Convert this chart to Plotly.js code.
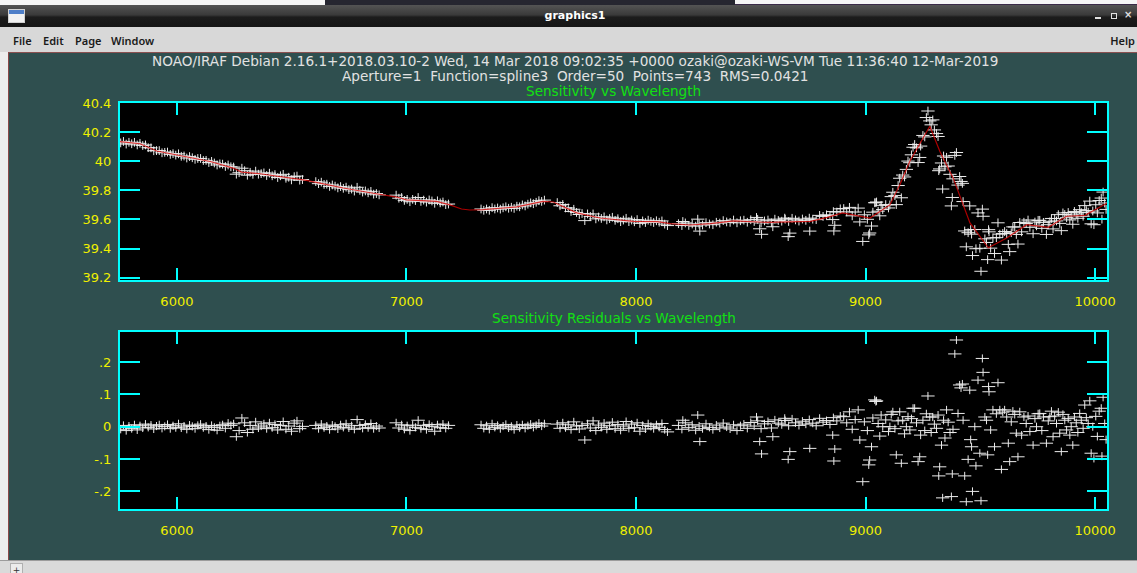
<!DOCTYPE html>
<html>
<head>
<meta charset="utf-8">
<script src="https://cdn.plot.ly/plotly-3.0.1.min.js"></script>
<style>
  html,body{margin:0;padding:0;}
  body{width:1137px;height:573px;overflow:hidden;background:#d9d9d9;position:relative;font-family:'DejaVu Sans',sans-serif;}
  .abs{position:absolute;}
  .menu{position:absolute;top:33px;font-family:'Noto Sans','DejaVu Sans',sans-serif;font-weight:600;font-size:11px;color:#1a1a1a;}
</style>
</head>
<body>
<div class="abs" style="left:0;top:0;width:1137px;height:5px;background:#f6f6f6"></div>
<div class="abs" style="left:325px;top:0;width:410px;height:5px;background:#262630"></div>
<div class="abs" style="left:735px;top:4px;width:402px;height:1px;background:#3a2a48"></div>
<div class="abs" style="left:0;top:5px;width:1137px;height:22px;background:linear-gradient(#545454,#3a3a3a 45%,#1c1c1c 55%,#161616)"></div>
<div class="abs" style="left:8px;top:9px;width:15px;height:12px;border:1px solid #d0d0d0;background:linear-gradient(#4f7fc8 0,#4f7fc8 35%,#f2f2f2 35%)"></div>
<div class="abs" style="left:475px;top:9px;width:200px;text-align:center;color:#ffffff;font-weight:bold;font-size:11px;">graphics1</div>
<div class="abs" style="left:1095px;top:17px;width:6px;height:2px;background:#e0e0e0"></div>
<div class="abs" style="left:1111px;top:13px;width:4px;height:4px;border:1px solid #e0e0e0"></div>
<div class="abs" style="left:1124px;top:9px;color:#e0e0e0;font-size:10px;font-weight:bold">&#215;</div>
<div class="abs" style="left:0;top:27px;width:1137px;height:25px;background:#d8d8d8"></div>
<div class="menu" style="left:13px">File</div>
<div class="menu" style="left:43px">Edit</div>
<div class="menu" style="left:75px">Page</div>
<div class="menu" style="left:111px">Window</div>
<div class="menu" style="right:2px">Help</div>
<div class="abs" style="left:0;top:52px;width:8px;height:509px;background:#ededed"></div>
<div id="plot" class="abs" style="left:8px;top:53px;width:1129px;height:507px;background:#2f4f4f"></div>
<div class="abs" style="left:8px;top:52px;width:1129px;height:1px;background:#8a5050"></div>
<div class="abs" style="left:8px;top:52px;width:1px;height:508px;background:#8a4848"></div>
<div class="abs" style="left:0;top:560px;width:1137px;height:1px;background:#9c9c9c"></div>
<div class="abs" style="left:0;top:561px;width:1137px;height:12px;background:#dadada"></div>
<div class="abs" style="left:10px;top:563px;width:11px;height:10px;border:1px solid #b0b0b0;border-bottom:none;background:#ececec;font-size:9px;line-height:12px;text-align:center;color:#333">+</div>
<script>
// ---- tick labels ----
const xTicks = [6000, 7000, 8000, 9000, 10000];
const xTickText = ['6000', '7000', '8000', '9000', '10000'];
const sensTicks = [39.2, 39.4, 39.6, 39.8, 40.0, 40.2, 40.4];
const sensTickText = ['39.2', '39.4', '39.6', '39.8', '40', '40.2', '40.4'];
const residTicks = [-0.2, -0.1, 0, 0.1, 0.2];
const residTickText = ['-.2', '-.1', '0', '.1', '.2'];

// ---- header texts ----
const header1 = 'NOAO/IRAF Debian 2.16.1+2018.03.10-2 Wed, 14 Mar 2018 09:02:35 +0000 ozaki@ozaki-WS-VM Tue 11:36:40 12-Mar-2019';
const header2 = 'Aperture=1\u00a0\u00a0Function=spline3\u00a0\u00a0Order=50\u00a0\u00a0Points=743\u00a0\u00a0RMS=0.0421';
const title1 = 'Sensitivity vs Wavelength';
const title2 = 'Sensitivity Residuals vs Wavelength';

// ---- fitted sensitivity curve (as drawn) ----
const fitWave = [5752,5839,5912,6000,6145,6245,6282,6362,6508,6558,6623,6725,6855,6958,7000,7131,7189,7240,7276,7333,7480,7595,7640,7682,7742,7843,7988,8091,8150,8234,8325,8426,8572,8760,8833,8900,8960,9019,9106,9150,9193,9280,9324,9382,9455,9535,9615,9702,9796,9876,9956,10053];
const fitSens = [40.135,40.12,40.07,40.044,39.998,39.953,39.925,39.914,39.884,39.87,39.85,39.816,39.78,39.754,39.735,39.724,39.70,39.672,39.665,39.667,39.686,39.724,39.72,39.69,39.645,39.61,39.587,39.585,39.571,39.562,39.571,39.59,39.58,39.587,39.614,39.645,39.628,39.61,39.70,39.84,40.0,40.24,40.067,39.884,39.576,39.405,39.473,39.564,39.546,39.622,39.628,39.713];

// ---- data points, segment A ----
const waveA = [5755,5767,5779,5791,5803,5815,5827,5839,5851,5863,5875,5887,5899,5911,5923,5935,5947,5959,5971,5983,5995,6007,6019,6031,6043,6055,6067,6079,6091,6103,6115,6127,6139,6151,6163,6175,6187,6199,6211,6223,6235,6247,6259,6271,6283,6295,6307,6319,6331,6343,6355,6367,6379,6391,6403,6415,6427,6439,6451,6463,6475,6487,6499,6511,6523,6535,6547];
const sensA = [40.126,40.136,40.118,40.130,40.120,40.130,40.112,40.123,40.108,40.112,40.093,40.092,40.072,40.073,40.073,40.058,40.061,40.063,40.047,40.052,40.042,40.051,40.034,40.036,40.022,40.032,40.024,40.013,40.019,40.019,40.005,40.006,39.991,39.999,39.988,39.974,39.982,39.980,39.964,39.974,39.962,39.960,39.911,39.921,39.952,39.935,39.904,39.924,39.910,39.932,39.911,39.915,39.920,39.902,39.918,39.900,39.908,39.888,39.900,39.910,39.883,39.890,39.872,39.894,39.898,39.870,39.874];
const residA = [-0.008,0.004,-0.012,0.002,-0.006,0.006,-0.010,0.003,-0.004,0.008,-0.002,0.005,-0.007,0.002,0.006,-0.005,0.001,0.007,-0.006,0.003,-0.003,0.009,-0.004,0.002,-0.008,0.005,0.001,-0.006,0.004,0.008,-0.003,0.002,-0.009,0.004,-0.002,-0.011,0.003,0.006,-0.005,0.011,0.004,0.009,-0.031,-0.012,0.027,0.012,-0.018,0.004,-0.008,0.015,-0.004,0.002,0.009,-0.006,0.012,-0.003,0.007,-0.010,0.004,0.016,-0.008,0.002,-0.014,0.011,0.018,-0.006,0.001];

// ---- segment B ----
const waveB = [6605,6617,6629,6641,6653,6665,6677,6689,6701,6713,6725,6737,6749,6761,6773,6785,6797,6809,6821,6833,6845,6857,6869,6881];
const sensB = [39.860,39.846,39.856,39.841,39.842,39.827,39.837,39.829,39.817,39.826,39.814,39.822,39.805,39.809,39.795,39.821,39.800,39.788,39.796,39.783,39.793,39.774,39.778,39.769];
const residB = [0.004,-0.006,0.008,-0.003,0.002,-0.009,0.005,0.001,-0.007,0.006,-0.002,0.009,-0.004,0.003,-0.008,0.022,0.004,-0.005,0.007,-0.003,0.010,-0.006,0.002,-0.004];

// ---- segment C ----
const waveC = [6955,6967,6979,6991,7003,7015,7027,7039,7051,7063,7075,7087,7099,7111,7123,7135,7147,7159,7171,7183];
const sensC = [39.767,39.746,39.751,39.731,39.738,39.722,39.738,39.730,39.751,39.724,39.733,39.719,39.734,39.727,39.711,39.728,39.714,39.720,39.702,39.706];
const residC = [0.012,-0.004,0.006,-0.008,0.003,-0.012,0.005,-0.002,0.020,-0.006,0.004,-0.009,0.007,0.001,-0.014,0.006,-0.003,0.008,-0.005,0.004];

// ---- segment D ----
const waveD = [7325,7337,7349,7361,7373,7385,7397,7409,7421,7433,7445,7457,7469,7481,7493,7505,7517,7529,7541,7553,7565,7577,7589,7601];
const sensD = [39.672,39.663,39.672,39.663,39.681,39.672,39.679,39.671,39.680,39.687,39.677,39.684,39.676,39.691,39.687,39.700,39.693,39.705,39.714,39.708,39.718,39.729,39.724,39.733];
const residD = [0.006,-0.005,0.003,-0.008,0.009,-0.002,0.004,-0.006,0.002,0.007,-0.004,0.001,-0.009,0.005,-0.003,0.006,-0.005,0.003,0.008,-0.002,0.004,0.011,0.002,0.009];

// ---- segment E ----
const waveE = [7657,7669,7681,7693,7705,7717,7729,7741,7753,7765,7777,7789,7801,7813,7825,7837,7849,7861,7873,7885,7897,7909,7921,7933,7945,7957,7969,7981,7993,8005,8017,8029,8041,8053,8065,8077,8089,8101,8113,8125,8137];
const sensE = [39.716,39.694,39.703,39.679,39.679,39.655,39.670,39.648,39.634,39.641,39.592,39.638,39.621,39.638,39.604,39.617,39.607,39.618,39.597,39.606,39.615,39.594,39.605,39.585,39.596,39.608,39.585,39.596,39.584,39.599,39.573,39.590,39.579,39.595,39.587,39.579,39.591,39.581,39.590,39.568,39.558];
const residE = [0.008,-0.005,0.012,-0.003,0.006,-0.009,0.015,0.002,-0.007,0.004,-0.041,0.009,-0.004,0.018,-0.012,0.005,-0.002,0.011,-0.008,0.003,0.014,-0.006,0.007,-0.011,0.002,0.016,-0.005,0.008,-0.003,0.012,-0.014,0.004,-0.007,0.009,0.001,-0.006,0.006,-0.002,0.010,-0.009,-0.016];

// ---- segment F1 (band + outliers) ----
const waveF1 = [8185,8200,8215,8230,8245,8260,8275,8290,8305,8320,8335,8350,8365,8380,8395,8410,8425,8440,8455,8470,8485,8500,8515,8530,8545,8560,8575,8590,8605,8620,8635,8650,8665,8680,8695,8710,8725,8740,8755,8770,8785,8800,8815,8830,8845,8860,8875,8890];
const sensF1 = [39.571,39.558,39.576,39.559,39.569,39.554,39.568,39.562,39.578,39.569,39.564,39.581,39.575,39.592,39.583,39.580,39.596,39.577,39.591,39.595,39.581,39.598,39.586,39.601,39.576,39.590,39.596,39.577,39.602,39.593,39.588,39.602,39.586,39.608,39.597,39.589,39.603,39.594,39.609,39.602,39.599,39.628,39.621,39.632,39.627,39.654,39.651,39.673];
const residF1 = [0.004,-0.008,0.012,-0.003,0.006,-0.011,0.002,-0.006,0.009,-0.002,-0.009,0.005,-0.004,0.011,-0.001,-0.007,0.006,-0.012,0.003,0.008,-0.005,0.013,0.002,0.018,-0.006,0.009,0.016,-0.004,0.021,0.011,0.006,0.019,0.003,0.024,0.012,0.004,0.017,0.008,0.022,0.011,0.003,0.026,0.014,0.019,0.007,0.028,0.018,0.033];
const waveF1out = [8204,8269,8278,8525,8539,8547,8596,8648,8663,8670,8757,8857,8862,8866];
const sensF1out = [39.586,39.602,39.520,39.614,39.536,39.498,39.550,39.609,39.482,39.506,39.520,39.599,39.521,39.560];
const residF1out = [0.020,0.036,-0.046,0.030,-0.046,-0.084,-0.031,0.026,-0.101,-0.077,-0.067,-0.026,-0.106,-0.069];

// ---- segment F2 (noisy red end) ----
const waveF2 = [8905,8918,8930,8942,8955,8968,8975,8988,8995,9008,9014,9018,9026,9032,9040,9045,9048,9055,9062,9068,9075,9088,9100,9106,9112,9119,9128,9134,9142,9149,9156,9162,9170,9178,9185,9193,9200,9207,9214,9222,9229,9236,9240,9250,9258,9265,9272,9280,9286,9293,9300,9309,9316,9319,9323,9331,9336,9340,9346,9353,9360,9368,9374,9378,9381,9389,9396,9403,9410,9416,9422,9425,9432,9439,9447,9454,9458,9462,9466,9476,9481,9490,9498,9503,9509,9512,9520,9527,9532,9536,9538,9545,9555,9562,9570,9577,9585,9592,9598,9606,9615,9622,9628,9635,9642,9650,9657,9664,9672,9680,9690,9700,9708,9716,9730,9738,9745,9752,9759,9768,9775,9788,9796,9803,9810,9817,9824,9832,9840,9846,9853,9860,9868,9876,9883,9890,9896,9903,9910,9918,9925,9933,9940,9948,9955,9962,9970,9977,9983,9990,9995,10003,10010,10018,10027,10030,10035,10042,10048];
const sensF2 = [39.675,39.652,39.683,39.625,39.651,39.678,39.583,39.449,39.632,39.601,39.494,39.507,39.555,39.650,39.715,39.715,39.720,39.657,39.625,39.697,39.668,39.702,39.679,39.700,39.757,39.787,39.764,39.702,39.833,39.883,39.749,39.905,39.892,39.944,40.001,39.990,40.044,40.096,40.115,40.092,39.991,40.026,40.104,40.177,40.167,40.300,40.345,40.277,40.250,40.284,40.215,40.190,40.170,39.935,39.947,39.988,39.809,40.036,39.962,40.027,39.967,39.910,39.693,39.751,39.879,40.040,40.060,39.836,39.895,39.861,39.848,39.723,39.521,39.412,39.509,39.693,39.530,39.499,39.352,39.531,39.399,39.645,39.402,39.244,39.671,39.622,39.467,39.442,39.324,39.530,39.515,39.403,39.474,39.366,39.475,39.577,39.499,39.321,39.504,39.517,39.503,39.429,39.379,39.509,39.549,39.548,39.497,39.431,39.579,39.515,39.581,39.572,39.596,39.546,39.502,39.582,39.556,39.594,39.594,39.539,39.580,39.497,39.564,39.584,39.607,39.535,39.606,39.590,39.633,39.573,39.523,39.645,39.634,39.612,39.648,39.597,39.624,39.567,39.655,39.637,39.608,39.667,39.647,39.622,39.695,39.661,39.650,39.726,39.570,39.658,39.564,39.701,39.645,39.730,39.747,39.602,39.788,39.713,39.669];
const residF2 = [0.031,0.012,0.046,-0.008,0.022,0.052,-0.041,-0.170,0.015,-0.012,-0.118,-0.103,-0.062,0.027,0.083,0.078,0.080,0.010,-0.029,0.036,0.000,0.021,-0.015,0.000,0.038,0.046,-0.006,-0.087,0.018,0.046,-0.113,0.020,-0.022,0.000,0.031,-0.010,0.025,0.057,0.057,0.012,-0.108,-0.093,-0.026,0.020,-0.012,0.040,0.095,0.030,-0.018,0.030,0.008,-0.005,0.036,-0.152,-0.124,-0.057,-0.220,0.020,-0.035,0.052,0.014,-0.018,-0.216,-0.146,-0.008,0.225,0.268,0.041,0.129,0.120,0.132,0.020,-0.152,-0.232,-0.101,0.113,-0.040,-0.062,-0.200,0.000,-0.121,0.144,-0.082,-0.229,0.211,0.168,0.030,0.020,-0.087,0.124,0.108,-0.010,0.052,-0.062,0.040,0.136,0.052,-0.132,0.045,0.052,0.030,-0.051,-0.108,0.015,0.048,0.038,-0.020,-0.093,0.046,-0.026,0.030,0.010,0.033,-0.015,-0.057,0.025,0.000,0.040,0.041,-0.012,0.030,-0.051,0.018,0.031,0.048,-0.031,0.033,0.010,0.045,-0.020,-0.077,0.038,0.020,-0.010,0.025,-0.026,0.000,-0.057,0.030,0.012,-0.018,0.041,0.020,-0.005,0.067,0.028,0.010,0.080,-0.082,0.000,-0.098,0.032,-0.030,0.048,0.057,-0.091,0.091,0.010,-0.040];

const wavelength = [].concat(waveA, waveB, waveC, waveD, waveE, waveF1, waveF1out, waveF2);
const sensitivity = [].concat(sensA, sensB, sensC, sensD, sensE, sensF1, sensF1out, sensF2);
const residual = [].concat(residA, residB, residC, residD, residE, residF1, residF1out, residF2);

const CY = '#00ffff', YEL = '#f0f000', GRN = '#12e012', PT = '#ececec';
const FONT = 'DejaVu Sans';

function crossTrace(y, xa, ya, halfH) {
  return {
    type: 'scatter', mode: 'markers', x: wavelength, y: y, xaxis: xa, yaxis: ya,
    marker: {size: 1, color: 'rgba(0,0,0,0)'},
    error_x: {type: 'constant', value: 29, width: 0, thickness: 1, color: PT},
    error_y: {type: 'constant', value: halfH, width: 0, thickness: 1, color: PT},
    hoverinfo: 'skip'
  };
}

const traces = [
  crossTrace(sensitivity, 'x', 'y', 0.030),
  {type: 'scatter', mode: 'lines', x: fitWave, y: fitSens, xaxis: 'x', yaxis: 'y',
   line: {color: 'rgba(215,0,0,0.8)', width: 1.2}, hoverinfo: 'skip'},
  crossTrace(residual, 'x2', 'y2', 0.0125)
];

function xAxis(anchor) {
  return {
    anchor: anchor, domain: [0, 1], range: [5752, 10052], tickvals: xTicks, ticktext: xTickText,
    ticks: 'inside', ticklen: 12, tickwidth: 2, tickcolor: CY,
    showline: true, linecolor: CY, linewidth: 2, mirror: 'ticks',
    showgrid: false, zeroline: false, ticklabelstandoff: 8,
    tickfont: {family: FONT, size: 13, color: YEL}
  };
}
function yAxis(anchor, domain, range, vals, text) {
  return {
    anchor: anchor, domain: domain, range: range, tickvals: vals, ticktext: text,
    ticks: 'inside', ticklen: 20, tickwidth: 2, tickcolor: CY,
    showline: true, linecolor: CY, linewidth: 2, mirror: 'ticks',
    showgrid: false, zeroline: false, ticklabelstandoff: 4,
    tickfont: {family: FONT, size: 13, color: YEL}
  };
}

const layout = {
  width: 1129, height: 507,
  margin: {l: 112, r: 30, t: 50, b: 51, pad: 0},
  paper_bgcolor: '#2f4f4f', plot_bgcolor: '#000000',
  showlegend: false,
  xaxis: xAxis('y'),
  yaxis: yAxis('x', [0.564, 1], [39.184, 40.4], sensTicks, sensTickText),
  xaxis2: xAxis('y2'),
  yaxis2: yAxis('x2', [0, 0.4367], [-0.2544, 0.2937], residTicks, residTickText),
  annotations: [
    {text: header1, xref: 'paper', yref: 'paper', x: 0.461, y: 1.1034, xanchor: 'center', yanchor: 'middle', showarrow: false, font: {family: FONT, size: 13.6, color: '#e2e2e2'}},
    {text: header2, xref: 'paper', yref: 'paper', x: 0.4605, y: 1.066, xanchor: 'center', yanchor: 'middle', showarrow: false, font: {family: FONT, size: 13.6, color: '#e2e2e2'}},
    {text: title1, xref: 'paper', yref: 'paper', x: 0.5005, y: 1.0295, xanchor: 'center', yanchor: 'middle', showarrow: false, font: {family: FONT, size: 13.6, color: GRN}},
    {text: title2, xref: 'paper', yref: 'paper', x: 0.5005, y: 0.4704, xanchor: 'center', yanchor: 'middle', showarrow: false, font: {family: FONT, size: 13.6, color: GRN}}
  ]
};

Plotly.newPlot('plot', traces, layout, {staticPlot: true, displayModeBar: false});
</script>
</body>
</html>
